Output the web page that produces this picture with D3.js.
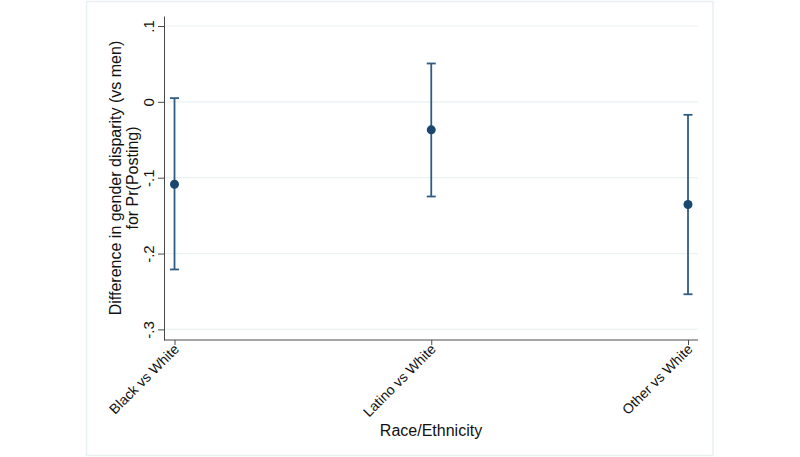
<!DOCTYPE html>
<html>
<head>
<meta charset="utf-8">
<script src="https://cdn.jsdelivr.net/npm/d3@7"></script>
<style>
  html, body { margin: 0; padding: 0; background: #fff; }
  svg { display: block; }
  text { font-family: "Liberation Sans", Arial, sans-serif; fill: #111; }
</style>
</head>
<body>
<svg id="chart" width="800" height="457"></svg>
<script>
// Data
const categories = ["Black vs White", "Latino vs White", "Other vs White"];
const estimates = [-0.1086, -0.0369, -0.1354];
const lowerCI = [-0.221, -0.1248, -0.2537];
const upperCI = [0.0049, 0.0506, -0.0171];
const yTicks = [0.1, 0, -0.1, -0.2, -0.3];
const yTickLabels = [".1", "0", "-.1", "-.2", "-.3"];
const xTitle = "Race/Ethnicity";
const yTitleLines = ["Difference in gender disparity (vs men)", "for Pr(Posting)"];

const svg = d3.select("#chart");

// Outer frame
svg.append("rect")
  .attr("x", 86.5).attr("y", 1.5).attr("width", 626.5).attr("height", 454)
  .attr("fill", "#fff").attr("stroke", "#e9f0f1").attr("stroke-width", 1.5);

const plotLeft = 164, plotRight = 698, plotTop = 16, plotBottom = 340;

const x = d3.scalePoint().domain(categories).range([174.5, 688]);
const y = d3.scaleLinear().domain([-0.314, 0.1132]).range([plotBottom, plotTop]);

// gridlines
svg.append("g").selectAll("line").data(yTicks).join("line")
  .attr("x1", plotLeft).attr("x2", plotRight)
  .attr("y1", d => y(d)).attr("y2", d => y(d))
  .attr("stroke", "#eaf2f3").attr("stroke-width", 1.2);

// Y axis
const yAxis = d3.axisLeft(y).tickValues(yTicks)
  .tickFormat((d, i) => yTickLabels[i]).tickSize(6).tickSizeOuter(0);
const gy = svg.append("g").attr("transform", `translate(${plotLeft},0)`).call(yAxis);
gy.select(".domain").attr("stroke", "#4a4a4a");
gy.selectAll(".tick line").attr("stroke", "#4a4a4a");
gy.selectAll(".tick text")
  .attr("font-size", 15)
  .attr("text-anchor", "middle")
  .attr("x", null).attr("dy", null)
  .attr("transform", "translate(-10,0) rotate(-90)")
  .style("font-family", '"Liberation Sans", Arial, sans-serif')
  .attr("fill", "#111");

// X axis
const xAxis = d3.axisBottom(x).tickSize(5).tickSizeOuter(0);
const gx = svg.append("g").attr("transform", `translate(0,${plotBottom})`).call(xAxis);
gx.select(".domain").attr("d", `M${plotLeft},0H${plotRight}`).attr("stroke", "#4a4a4a");
gx.selectAll(".tick line").attr("stroke", "#4a4a4a");
gx.selectAll(".tick text")
  .attr("font-size", 14)
  .attr("text-anchor", "end")
  .attr("y", null).attr("dy", null)
  .attr("transform", "translate(5,10) rotate(-45)")
  .style("font-family", '"Liberation Sans", Arial, sans-serif')
  .attr("fill", "#111");

// Error bars
const idx = d3.range(categories.length);
const capW = 4.5;
const eb = svg.append("g").attr("stroke", "#2f5c85").attr("stroke-width", 1.8).attr("fill", "none");
eb.selectAll("line.v").data(idx).join("line").attr("class", "v")
  .attr("x1", i => x(categories[i])).attr("x2", i => x(categories[i]))
  .attr("y1", i => y(lowerCI[i])).attr("y2", i => y(upperCI[i]));
eb.selectAll("line.lo").data(idx).join("line").attr("class", "lo")
  .attr("x1", i => x(categories[i]) - capW).attr("x2", i => x(categories[i]) + capW)
  .attr("y1", i => y(lowerCI[i])).attr("y2", i => y(lowerCI[i]));
eb.selectAll("line.hi").data(idx).join("line").attr("class", "hi")
  .attr("x1", i => x(categories[i]) - capW).attr("x2", i => x(categories[i]) + capW)
  .attr("y1", i => y(upperCI[i])).attr("y2", i => y(upperCI[i]));

// Points
svg.append("g").selectAll("circle").data(idx).join("circle")
  .attr("cx", i => x(categories[i])).attr("cy", i => y(estimates[i]))
  .attr("r", 4.5).attr("fill", "#1a476f");

// Titles
svg.append("text").attr("x", 431).attr("y", 436)
  .attr("text-anchor", "middle").attr("font-size", 16).text(xTitle);

const yt = svg.append("text").attr("transform", `translate(0,178) rotate(-90)`)
  .attr("text-anchor", "middle").attr("font-size", 16);
yt.append("tspan").attr("x", 0).attr("y", 121).text(yTitleLines[0]);
yt.append("tspan").attr("x", 0).attr("y", 138).text(yTitleLines[1]);
</script>
</body>
</html>
